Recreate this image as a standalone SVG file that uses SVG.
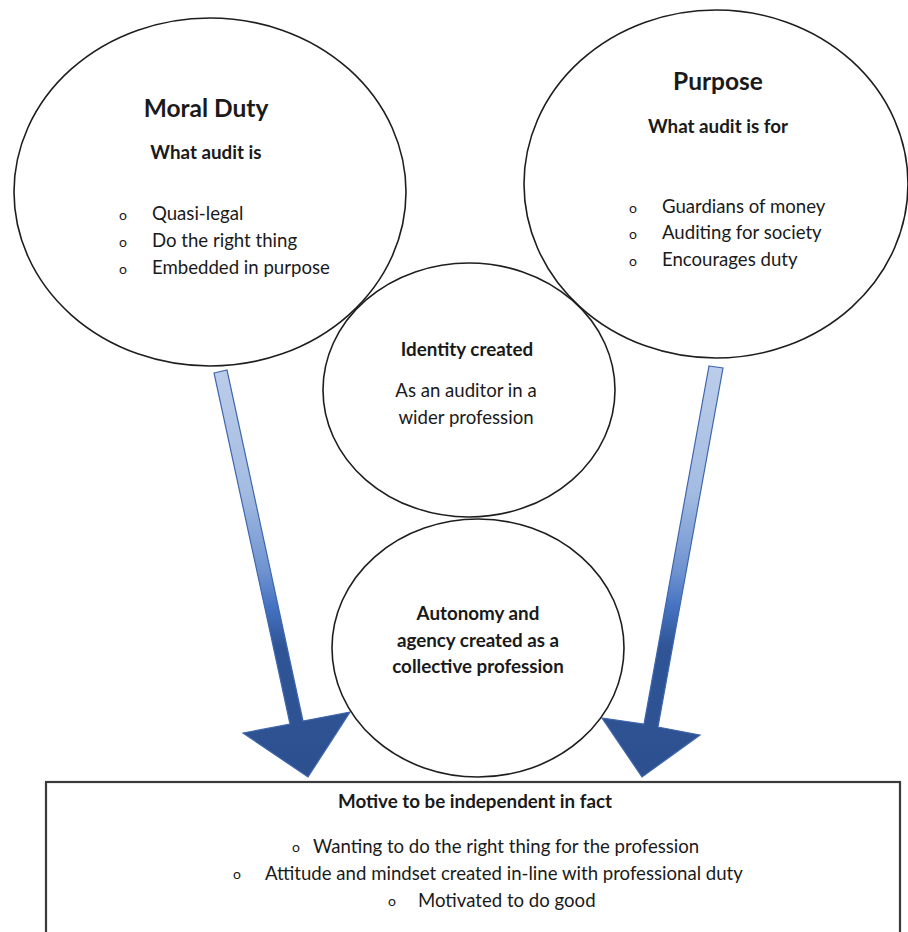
<svg xmlns="http://www.w3.org/2000/svg" width="908" height="932" viewBox="0 0 908 932">
  <style>
    .bubble { fill: none; stroke: #1e1e1e; stroke-width: 1.6; }
    .frame { fill: #ffffff; stroke: #3a3a3a; stroke-width: 2.2; }
    text { font-family: "Lato", "Liberation Sans", sans-serif; fill: #1a1a1a; }
    .title { font-size: 24.5px; font-weight: bold; }
    .sub { font-size: 18.8px; font-weight: bold; }
    .item { font-size: 18.6px; }
    .dot { font-size: 14px; }
    .mid { text-anchor: middle; }
    .flow { stroke: #3f67ad; stroke-width: 1.2; stroke-linejoin: miter; }
  </style>
  <defs>
    <linearGradient id="shade" gradientUnits="userSpaceOnUse" x1="0" y1="368" x2="0" y2="777">
      <stop offset="0" stop-color="#bccdea"/>
      <stop offset="0.3" stop-color="#a4bce2"/>
      <stop offset="0.5" stop-color="#6e92d0"/>
      <stop offset="0.58" stop-color="#4673c2"/>
      <stop offset="0.68" stop-color="#2f5597"/>
      <stop offset="1" stop-color="#2d508f"/>
    </linearGradient>
  </defs>

  <rect width="908" height="932" fill="#ffffff"/>

  <!-- connectors: the two broad arrows feeding the motive box -->
  <g id="connectors">
    <polygon class="flow" fill="url(#shade)" points="214,373 227,370 303,721 350,712 308,777 243,733 290,724"/>
    <polygon class="flow" fill="url(#shade)" points="709,366 723,368 658,727 700,735 642,777 602,718 644,724"/>
  </g>

  <g id="motive">
    <rect class="frame" x="46" y="782" width="854" height="160"/>
    <text class="sub mid" x="475" y="808">Motive to be independent in fact</text>
    <text class="dot" x="292" y="852">o</text>
    <text class="item" x="313" y="853">Wanting to do the right thing for the profession</text>
    <text class="dot" x="233" y="879">o</text>
    <text class="item" x="265" y="880">Attitude and mindset created in-line with professional duty</text>
    <text class="dot" x="388" y="906">o</text>
    <text class="item" x="418" y="907">Motivated to do good</text>
  </g>

  <g id="moral-duty">
    <ellipse class="bubble" cx="210" cy="192" rx="196" ry="174"/>
    <text class="title mid" x="206" y="117">Moral Duty</text>
    <text class="sub mid" x="206" y="159">What audit is</text>
    <text class="dot" x="119" y="220">o</text>
    <text class="item" x="152" y="220">Quasi-legal</text>
    <text class="dot" x="119" y="247">o</text>
    <text class="item" x="152" y="247">Do the right thing</text>
    <text class="dot" x="119" y="274">o</text>
    <text class="item" x="152" y="274">Embedded in purpose</text>
  </g>

  <g id="purpose">
    <ellipse class="bubble" cx="716" cy="184" rx="192" ry="174"/>
    <text class="title mid" x="718" y="90">Purpose</text>
    <text class="sub mid" x="718" y="133">What audit is for</text>
    <text class="dot" x="629" y="213">o</text>
    <text class="item" x="662" y="213">Guardians of money</text>
    <text class="dot" x="629" y="239">o</text>
    <text class="item" x="662" y="239">Auditing for society</text>
    <text class="dot" x="629" y="266">o</text>
    <text class="item" x="662" y="266">Encourages duty</text>
  </g>

  <g id="identity">
    <ellipse class="bubble" cx="469" cy="390" rx="146" ry="127"/>
    <text class="sub mid" x="467" y="356">Identity created</text>
    <text class="item mid" x="466" y="397">As an auditor in a</text>
    <text class="item mid" x="466" y="424">wider profession</text>
  </g>

  <g id="autonomy">
    <ellipse class="bubble" cx="478" cy="648" rx="146" ry="129"/>
    <text class="sub mid" x="478" y="620">Autonomy and</text>
    <text class="sub mid" x="478" y="647">agency created as a</text>
    <text class="sub mid" x="478" y="673">collective profession</text>
  </g>
</svg>
